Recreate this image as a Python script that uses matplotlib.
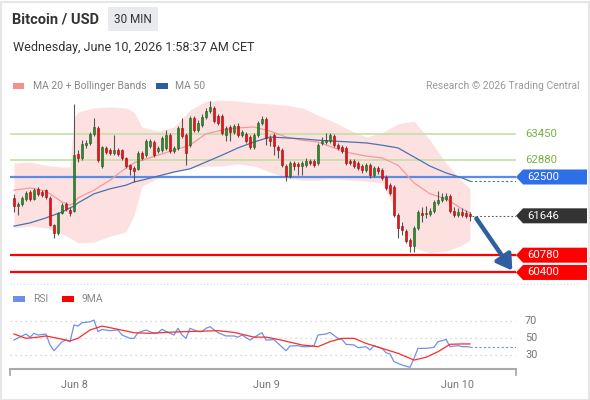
import matplotlib
matplotlib.use("Agg")
import matplotlib.pyplot as plt
import numpy as np
from matplotlib.patches import Polygon, Rectangle, FancyBboxPatch
from matplotlib.transforms import IdentityTransform
from matplotlib.lines import Line2D

plt.rcParams['font.family'] = ['Roboto', 'DejaVu Sans']

# ---------------- data ----------------
opens = [62040, 61860, 61910, 62020, 62170, 62020, 62240, 62170, 62210, 62040,
         61440, 61270, 61710, 61910, 61770, 61750, 63010, 62920, 63200, 63250,
         63450, 63580, 62740, 63140, 63090, 63030, 63090, 63090, 62920, 62760,
         62700, 62680, 63030, 62980, 63180, 63270, 63070, 63090, 63140, 63420,
         63070, 63140, 63580, 63420, 63200, 63800, 63530, 63640, 63820, 63950,
         64020, 63840, 63840, 63420, 63600, 63490, 63620, 63420, 63450, 63380,
         63160, 63420, 63690, 63780, 63360, 63420, 63160, 63090, 62740, 62520,
         62810, 62790, 62740, 62760, 62850, 62850, 62810, 63250, 63270, 63290,
         63400, 63200, 63160, 63140, 62850, 62850, 62810, 62740, 62650, 62760,
         62540, 62700, 62650, 62500, 62320, 62280, 61660, 61420, 61310, 61110,
         60980, 61380, 61710, 61690, 61690, 61750, 61930, 61990, 62020, 62080,
         61750, 61660, 61730, 61710, 61690]
highs = [62130, 61950, 62080, 62190, 62210, 62260, 62280, 62210, 62240, 62080,
         61470, 61730, 61930, 61950, 61840, 64110, 63090, 63310, 63310, 63490,
         63800, 63620, 63180, 63180, 63140, 63420, 63140, 63120, 62940, 62790,
         62740, 63070, 63070, 63340, 63340, 63310, 63180, 63400, 63530, 63470,
         63180, 63620, 63800, 63470, 63840, 63840, 63750, 63890, 64020, 64170,
         64060, 63890, 63890, 63620, 63640, 63670, 63690, 63530, 63490, 63420,
         63470, 63730, 63840, 63820, 63420, 63470, 63200, 63140, 62790, 62850,
         62850, 62830, 62850, 62920, 62900, 62900, 63250, 63380, 63470, 63470,
         63450, 63250, 63200, 63180, 62900, 62900, 62850, 62790, 62810, 62810,
         62740, 62740, 62700, 62540, 62370, 62320, 61710, 61510, 61360, 61160,
         61420, 61770, 61840, 61860, 61820, 61990, 62190, 62150, 62150, 62130,
         61840, 61820, 61820, 61770, 61730]
lows = [61730, 61660, 61860, 61970, 61970, 61990, 62080, 62060, 62020, 61420,
        61160, 61220, 61690, 61750, 61640, 61730, 62830, 62870, 63140, 63200,
        63400, 62830, 62700, 63010, 62980, 62980, 62960, 62870, 62700, 62540,
        62390, 62650, 62870, 62940, 63140, 62940, 63030, 63050, 63090, 63030,
        63030, 63090, 63360, 62760, 63160, 63490, 63490, 63600, 63780, 63910,
        63690, 63640, 63420, 63290, 63290, 63450, 63380, 63380, 63250, 63120,
        63120, 63380, 63640, 63200, 63180, 62980, 62920, 62720, 62410, 62480,
        62650, 62540, 62540, 62720, 62760, 62720, 62760, 63200, 63230, 63250,
        63160, 63090, 63030, 62760, 62760, 62700, 62650, 62590, 62610, 62480,
        62500, 62570, 62430, 62210, 62100, 61620, 61160, 61220, 61050, 60850,
        60850, 61330, 61510, 61600, 61640, 61710, 61880, 61950, 61970, 61710,
        61620, 61620, 61620, 61600, 61530]
closes = [61860, 61910, 62040, 62150, 62020, 62210, 62130, 62100, 62060, 61440,
          61270, 61710, 61880, 61800, 61710, 62980, 62920, 63230, 63250, 63450,
          63600, 62870, 63160, 63050, 63030, 63090, 63010, 62920, 62740, 62680,
          62630, 63030, 62920, 63290, 63290, 62980, 63140, 63360, 63420, 63070,
          63140, 63580, 63400, 63030, 63800, 63530, 63690, 63820, 63950, 64040,
          63730, 63690, 63470, 63580, 63490, 63620, 63420, 63490, 63290, 63160,
          63420, 63690, 63780, 63360, 63290, 63180, 63090, 62760, 62520, 62810,
          62740, 62740, 62810, 62850, 62810, 62760, 63200, 63290, 63310, 63420,
          63200, 63140, 63070, 62810, 62810, 62740, 62700, 62650, 62760, 62540,
          62700, 62630, 62480, 62260, 62150, 61660, 61380, 61330, 61090, 60980,
          61380, 61730, 61660, 61710, 61750, 61950, 61990, 62060, 62080, 61750,
          61660, 61730, 61660, 61640, 61646]

ind_idx = [0, 4, 8, 12, 14, 15, 16, 20, 24, 28, 30, 32, 36, 40, 44, 48, 52, 56,
           60, 64, 68, 72, 76, 80, 84, 88, 92, 96, 100, 104, 108, 112, 114]
bb_upper = [62810, 62830, 62760, 62720, 62720, 63800, 63930, 64020, 64040, 64020,
            63930, 63600, 63510, 63600, 63970, 64170, 64190, 64170, 64130, 64110,
            64080, 64020, 63860, 63710, 63530, 63380, 63470, 63670, 63730, 63310,
            62810, 62410, 62240]
bb_lower = [61380, 61420, 61380, 61250, 61160, 61110, 61050, 61070, 61200, 61290,
            61660, 62300, 62480, 62610, 62700, 62740, 62740, 62790, 62740, 62610,
            62480, 62430, 62430, 62460, 62430, 62410, 62370, 61660, 60940, 60830,
            60870, 61000, 61110]
ma20 = [62210, 62260, 62190, 61950, 61880, 61930, 62040, 62210, 62430, 62700,
        62810, 62870, 62980, 63090, 63200, 63450, 63530, 63580, 63600, 63510,
        63380, 63310, 63270, 63140, 63030, 62960, 62920, 62760, 62370, 62130,
        62020, 61800, 61710]
ma50 = [61420, 61490, 61600, 61730, 61820, 61860, 61930, 62130, 62240, 62320,
        62390, 62430, 62520, 62610, 62680, 62830, 62980, 63140, 63270, 63380,
        63360, 63340, 63310, 63290, 63270, 63250, 63200, 63140, 62940, 62740,
        62590, 62480, 62410]

rsi_idx = [0, 1, 3, 4, 5, 6, 8, 9, 10, 12, 13, 14, 15, 16, 17, 19, 20, 21, 22, 24,
           26, 27, 29, 30, 31, 33, 35, 36, 37, 39, 40, 41, 42, 43, 44, 46, 47, 48, 49, 51,
           53, 55, 56, 57, 59, 61, 62, 63, 65, 66, 68, 69, 71, 72, 74, 75, 76, 78, 79, 81,
           82, 83, 85, 86, 88, 89, 90, 92, 93, 94, 95, 97, 99, 100, 101, 103, 105, 106, 107, 108,
           109, 111, 112, 113, 114]
rsi_val = [47.6, 50, 54.7, 51, 55.5, 53.5, 54.7, 41.8, 35, 45.7,
           47.6, 45.7, 65.3, 64, 68, 69, 71, 57.5, 60, 58.6,
           59.4, 53.5, 49.6, 49.6, 56.2, 59.4, 55.5, 56.2, 60.2, 55.5,
           53.5, 61.4, 53.5, 49.6, 61.4, 57.5, 57.5, 61.4, 63.3, 56.2,
           52.4, 52.4, 51, 53.5, 47.6, 53.5, 56.2, 47.6, 48, 43.7,
           35, 40.6, 41, 39.8, 39.8, 41, 53.5, 54.7, 56.6, 49.6,
           48.4, 42.5, 41.8, 38.6, 39.8, 35.9, 41, 37.8, 32.7, 31.2,
           22.2, 18.2, 15.5, 26, 37.8, 37.8, 39, 45.7, 46.8, 48.4,
           39.8, 41, 39.8, 39.8, 39.4]
rsi_ma_idx = [0, 3, 6, 8, 11, 14, 16, 19, 22, 26, 30, 34, 38, 43, 51, 55, 60, 63, 66, 70,
              72, 76, 79, 82, 85, 88, 92, 96, 100, 103, 106, 109, 112, 114]
rsi_ma_val = [54.7, 49.6, 51, 52.4, 49.6, 46.5, 49.6, 59.4, 64, 60.2,
              56.2, 55.5, 56.6, 57.5, 58.6, 56.6, 51, 51, 48.4, 44,
              41.8, 39.8, 45.7, 49.6, 49.6, 43.7, 37.8, 32, 24, 27.3,
              33.9, 42.6, 43, 43]

resist_levels = [63450, 62880]
pivot_level = 62500
support_levels = [60780, 60400]
last_price = 61646
rsi_levels = [70, 50, 30]
x_tick_idx = [15, 63, 111]
x_tick_labels = ["Jun 8", "Jun 9", "Jun 10"]

# ---------------- figure ----------------
W, H = 590, 400
fig = plt.figure(figsize=(W / 100, H / 100), dpi=100)
fig.patch.set_facecolor('white')

def fx(px):
    return px / W

def fy(py):
    return 1 - py / H

GREEN_C = '#2c8a2c'
RED_C = '#e8141b'
LBL_GREY = '#888888'

ax = fig.add_axes([fx(10), fy(280), fx(516) - fx(10), fy(95) - fy(280)])
ax.set_xlim(-1, 125.5)
ax.set_ylim(60234, 64304)
ax.axis('off')

# Bollinger fill and MAs
ax.fill_between(ind_idx, bb_lower, bb_upper, color='#fde1e1', lw=0, zorder=1)
ax.plot(ind_idx, ma20, color='#f49a9a', lw=0.9, zorder=3)
ax.plot(ind_idx, ma50, color='#4a72b0', lw=0.9, zorder=3)
ax.plot([ind_idx[-1], 125.5], [ma50[-1], ma50[-1]], color='#4a72b0', lw=0.8,
        ls=(0, (2, 2)), zorder=3)

# level lines
for lv in resist_levels:
    ax.axhline(lv, color='#c3dfa6', lw=1.2, zorder=2)
ax.axhline(pivot_level, color='#5a8ee6', lw=1.6, zorder=2)
for lv in support_levels:
    ax.axhline(lv, color='#ff0000', lw=1.6, zorder=2)

# candles
idx = np.arange(len(closes))
o = np.array(opens, float)
c = np.array(closes, float)
h = np.array(highs, float)
l = np.array(lows, float)
up = c >= o
ax.vlines(idx, l, h, color='#555555', lw=0.8, zorder=4)
bottoms = np.minimum(o, c)
heights = np.maximum(np.abs(c - o), 25)
ax.bar(idx[up], heights[up], bottom=bottoms[up], width=0.72, color=GREEN_C,
       edgecolor='#1d5e1d', lw=0.4, zorder=5)
ax.bar(idx[~up], heights[~up], bottom=bottoms[~up], width=0.72, color=RED_C,
       edgecolor='#b00000', lw=0.4, zorder=5)

# last price dotted line
ax.plot([idx[-1] + 0.6, 125.5], [last_price, last_price], color='#555555', lw=0.8,
        ls=(0, (1.5, 2)), zorder=3)

# forecast arrow
ax.annotate('', xy=(124.6, support_levels[1] + 40), xytext=(idx[-1] + 1.6, last_price - 60),
            arrowprops=dict(arrowstyle='-|>,head_length=0.9,head_width=0.55',
                            color='#2f5f9e', lw=3.2, shrinkA=0, shrinkB=0),
            annotation_clip=False, zorder=6)

fig.canvas.draw()

def label_box(price, text, fc, tc='white'):
    y = ax.transData.transform((0, price))[1]
    verts = [(516, y), (523, y + 7.5), (587, y + 7.5), (587, y - 7.5), (523, y - 7.5)]
    fig.add_artist(Polygon(verts, closed=True, transform=IdentityTransform(),
                           fc=fc, ec='none', zorder=10))
    fig.text(fx(527), y / H, text, color=tc, fontsize=8.2, va='center', ha='left',
             zorder=11)

def label_text(price, text, col):
    y = ax.transData.transform((0, price))[1]
    fig.text(fx(525), y / H, text, color=col, fontsize=8.2, va='center', ha='left')

for lv in resist_levels:
    label_text(lv, str(lv), '#77b23f')
label_box(pivot_level, str(pivot_level), '#2e6fe8')
label_box(last_price, str(last_price), '#333333')
for lv in support_levels:
    label_box(lv, str(lv), '#ff0000')

# ---------------- RSI panel ----------------
ax2 = fig.add_axes([fx(10), fy(369), fx(516) - fx(10), fy(305) - fy(369)])
ax2.set_xlim(-1, 125.5)
ax2.set_ylim(13.53, 88.8)
for s in ['top', 'right', 'left']:
    ax2.spines[s].set_visible(False)
ax2.spines['bottom'].set_color('#aaaaaa')
ax2.spines['bottom'].set_linewidth(1.5)
ax2.set_yticks([])
for lv in rsi_levels:
    ax2.axhline(lv, color='#cccccc', lw=0.9, ls=(0, (1, 3)), zorder=1)
ax2.plot(rsi_idx, rsi_val, color='#7091e6', lw=0.9, zorder=3)
ax2.plot(rsi_ma_idx, rsi_ma_val, color='#ff2a2a', lw=0.9, zorder=4)
ax2.plot([rsi_idx[-1], 125.5], [rsi_val[-1], rsi_val[-1]], color='#7091e6', lw=0.8,
         ls=(0, (2, 2)), zorder=3)
ax2.set_xticks(x_tick_idx)
ax2.set_xticklabels(x_tick_labels)
ax2.tick_params(axis='x', length=0, pad=8, labelsize=7.8, labelcolor='#777777')
for xe in (0, 1):
    ax2.plot([xe, xe], [0, -0.09], transform=ax2.transAxes, color='#aaaaaa', lw=1.3,
             clip_on=False)

fig.canvas.draw()
for lv in rsi_levels:
    y = ax2.transData.transform((0, lv))[1]
    fig.text(fx(525), y / H, str(lv), color='#777777', fontsize=7.8, va='center', ha='left')

# ---------------- header / legends ----------------
fig.text(fx(12), fy(19), 'Bitcoin / USD', fontsize=10.5, fontweight='bold', color='#333333',
         va='center', ha='left')
fig.add_artist(FancyBboxPatch((fx(108), fy(31)), fx(158) - fx(108), fy(7) - fy(31),
                              boxstyle='square,pad=0', transform=fig.transFigure,
                              fc='#e8eaed', ec='none'))
fig.text(fx(133), fy(19.5), '30 MIN', fontsize=8.5, color='#333333', va='center', ha='center')
fig.text(fx(13), fy(48), 'Wednesday, June 10, 2026 1:58:37 AM CET', fontsize=9,
         color='#333333', va='center', ha='left')

def legend_patch(x0, x1, yc, col):
    fig.add_artist(Rectangle((fx(x0), fy(yc + 3)), fx(x1) - fx(x0), fy(yc - 3) - fy(yc + 3),
                             transform=fig.transFigure, fc=col, ec='none'))

legend_patch(13, 24, 86, '#f78f8f')
fig.text(fx(33), fy(86), 'MA 20 + Bollinger Bands', fontsize=7.5, color=LBL_GREY,
         va='center', ha='left')
legend_patch(156, 168, 86, '#2f5e9e')
fig.text(fx(175), fy(86), 'MA 50', fontsize=7.5, color=LBL_GREY, va='center', ha='left')
fig.text(fx(580), fy(86), 'Research \u00a9 2026 Trading Central', fontsize=7.5,
         color='#999999', va='center', ha='right')

legend_patch(13, 25, 299, '#6f8fe6')
fig.text(fx(33), fy(299), 'RSI', fontsize=7.5, color=LBL_GREY, va='center', ha='left')
legend_patch(62, 74, 299, '#ff0000')
fig.text(fx(82), fy(299), '9MA', fontsize=7.5, color=LBL_GREY, va='center', ha='left')

# separator and frame
fig.add_artist(Line2D([fx(10), fx(580)], [fy(284), fy(284)], transform=fig.transFigure,
                      color='#dddddd', lw=0.8, ls=(0, (1, 2))))
fig.add_artist(Rectangle((0.5 / W, 0.5 / H), 1 - 2 / W, 1 - 2 / H, transform=fig.transFigure,
                         fc='none', ec='#e6e6e6', lw=1.5))

fig.savefig('out.png', dpi=100)
